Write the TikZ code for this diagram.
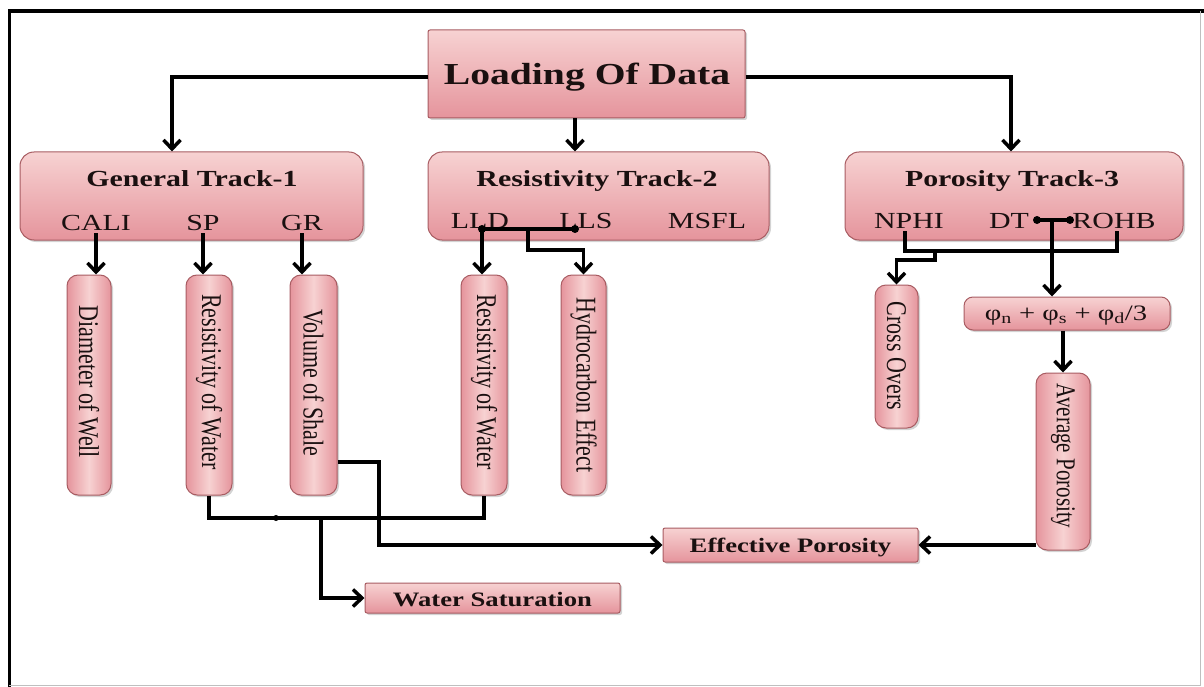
\documentclass[tikz,border=0pt]{standalone}
\usepackage{fontspec}
\setmainfont{Liberation Serif}
\usetikzlibrary{arrows.meta,shadows,calc}

\definecolor{pinkTop}{RGB}{247,210,210}
\definecolor{pinkBot}{RGB}{229,148,156}
\definecolor{edgeRed}{RGB}{168,92,98}
\definecolor{inkDark}{RGB}{26,16,16}

% the lettering is set slightly wide
\newcommand{\stretchtext}[1]{\scalebox{1.3}[1]{#1}}
\newcommand{\downtext}[1]{\scalebox{1.3}[1]{\rotatebox{-90}{#1}}}

\tikzset{
  box/.style={draw=edgeRed, line width=1pt, top color=pinkTop, bottom color=pinkBot,
    drop shadow={shadow xshift=2pt, shadow yshift=-2pt, opacity=0.35},
    inner sep=0pt},
  rbox/.style={box, rounded corners=14pt},
  vbox/.style={box, rounded corners=11pt, left color=pinkBot, right color=pinkBot, middle color=pinkTop},
  sbox/.style={box, rounded corners=2pt},
  txt/.style={inner sep=0pt, text=inkDark},
  bigtitle/.style={txt, anchor=base, font=\fontsize{30.5}{33}\selectfont\bfseries},
  ttl/.style={txt, anchor=base, font=\fontsize{23}{25}\selectfont\bfseries},
  lab/.style={txt, anchor=base, font=\fontsize{23}{25}\selectfont},
  vtxt/.style={txt, font=\fontsize{22}{24}\selectfont},
  btxt/.style={txt, anchor=base, font=\fontsize{20.5}{23}\selectfont\bfseries},
  wire/.style={line width=3.5pt, black},
  arrow/.style={wire, -{Straight Barb[length=9pt,width=17pt]}},
  junction/.style={circle, fill=black, inner sep=0pt, minimum size=8pt}
}

\begin{document}
\begin{tikzpicture}[x=1pt, y=-1pt]
\useasboundingbox (0,0) rectangle (1204,687);

% outer frame
\draw[line width=3.2pt, black] (8,11) -- (1204,11);
\draw[line width=3.2pt, black] (9.5,11) -- (9.5,687);
\draw[line width=1pt, black!25] (1200,11) -- (1200,685) -- (9,685);

% root box
\node[sbox, minimum width=317pt, minimum height=88pt] (load) at (586.5,74) {};
\node[bigtitle] (loadT) at (587,85) {\stretchtext{Loading Of Data}};

% track boxes
\node[rbox, minimum width=343pt, minimum height=88pt] (gen) at (191.5,196) {};
\node[rbox, minimum width=341pt, minimum height=88pt] (res) at (598.5,196) {};
\node[rbox, minimum width=338pt, minimum height=88pt] (por) at (1014,196) {};

\node[ttl] (genT) at (192,187) {\stretchtext{General Track-1}};
\node[ttl] (resT) at (597,187) {\stretchtext{Resistivity Track-2}};
\node[ttl] (porT) at (1012,187) {\stretchtext{Porosity Track-3}};

\node[lab] (cali) at (96,230) {\stretchtext{CALI}};
\node[lab] (sp) at (203,230) {\stretchtext{SP}};
\node[lab] (gr) at (302,230) {\stretchtext{GR}};
\node[lab] (lld) at (480,228) {\stretchtext{LLD}};
\node[lab] (lls) at (586,228) {\stretchtext{LLS}};
\node[lab] (msfl) at (707,228) {\stretchtext{MSFL}};
\node[lab] (nphi) at (909,228) {\stretchtext{NPHI}};
\node[lab] (dt) at (1009,228) {\stretchtext{DT}};
\node[lab] (rohb) at (1114,228) {\stretchtext{ROHB}};

% vertical result boxes
\node[vbox, minimum width=44pt, minimum height=220pt] (dia) at (89,385) {};
\node[vbox, minimum width=46pt, minimum height=220pt] (rw1) at (209,385) {};
\node[vbox, minimum width=47pt, minimum height=220pt] (vsh) at (313.5,385) {};
\node[vbox, minimum width=46pt, minimum height=220pt] (rw2) at (484,385) {};
\node[vbox, minimum width=45pt, minimum height=220pt] (hyd) at (583.5,385) {};
\node[vbox, minimum width=43pt, minimum height=143pt] (cross) at (896.5,356.5) {};
\node[vbox, minimum width=54pt, minimum height=177pt] (avg) at (1063,461.5) {};

\node[vtxt] (diaT) at (89,382) {\downtext{Diameter of Well}};
\node[vtxt] (rw1T) at (209,382) {\downtext{Resistivity of Water}};
\node[vtxt] (vshT) at (313.5,383) {\downtext{Volume of Shale}};
\node[vtxt] (rw2T) at (484,382) {\downtext{Resistivity of Water}};
\node[vtxt] (hydT) at (583.5,385) {\downtext{Hydrocarbon Effect}};
\node[vtxt] (crossT) at (896.5,356) {\downtext{Cross Overs}};
\node[vtxt, font=\fontsize{21}{23}\selectfont] (avgT) at (1063,456) {\downtext{Average Porosity}};

% formula box
\node[rbox, rounded corners=9pt, minimum width=206pt, minimum height=33pt] (phi) at (1067,313.5) {};
\node[txt, anchor=base, font=\fontsize{22}{24}\selectfont] (phiT) at (1066,320) {\stretchtext{φ\textsubscript{n} + φ\textsubscript{s} + φ\textsubscript{d}/3}};

% output boxes
\node[sbox, minimum width=255pt, minimum height=34pt] (eff) at (790.5,545) {};
\node[btxt] (effT) at (790.5,552) {\stretchtext{Effective Porosity}};
\node[sbox, minimum width=255pt, minimum height=30pt] (ws) at (492.5,598) {};
\node[btxt] (wsT) at (492.5,606) {\stretchtext{Water Saturation}};

% root to tracks
\draw[arrow] ([yshift=-3pt]load.west) -| ([xshift=-19.5pt]gen.north);
\draw[arrow] ([xshift=-11.5pt]load.south) -- ([xshift=-23.5pt]res.north);
\draw[arrow] ([yshift=-3pt]load.east) -| ([xshift=-3pt]por.north);

% general track
\draw[arrow] ([yshift=-3pt]cali.south) -- (cali.south |- dia.north);
\draw[arrow] ([yshift=-3pt]sp.south) -- (sp.south |- rw1.north);
\draw[arrow] ([yshift=-3pt]gr.south) -- (gr.south |- vsh.north);

% resistivity track
\coordinate (lldd) at (482,229);
\coordinate (llsd) at (575,229);
\coordinate (llm) at (528,229);
\draw[wire] (lldd) -- (llsd);
\node[junction] (lldj) at (lldd) {};
\node[junction] (llsj) at (llsd) {};
\draw[arrow] (lldd) -- (lldd |- rw2.north);
\draw[arrow] (llm) -- (528,250) -| (hyd.north);

% porosity track
\coordinate (dtd) at (1037,220);
\coordinate (rhd) at (1070,220);
\coordinate (dtm) at (1052,220);
\draw[wire] (dtd) -- (rhd);
\node[junction] (dtj) at (dtd) {};
\node[junction] (rhj) at (rhd) {};
\draw[arrow] (dtm) -- (dtm |- phi.north);
\coordinate (npt) at (905,231);
\coordinate (npb) at (905,251);
\coordinate (rbt) at (1117,231);
\coordinate (rbb) at (1117,251);
\draw[wire] (npt) -- (npb) -- (rbb) -- (rbt);
\coordinate (cs) at (935,251);
\draw[arrow] (cs) -- (935,260) -| (cross.north);
\draw[arrow] (phi.south -| avg.north) -- (avg.north);
\draw[arrow] (avg.west |- eff.east) -- (eff.east);

% lower network
\coordinate (bus) at (209,518);
\draw[wire] (rw1.south) -- (bus) -| (rw2.south);
\node[junction, minimum size=6pt] (busdot) at (276,518) {};
\coordinate (wsj) at (321,518);
\draw[arrow] (wsj) |- (ws.west);
\coordinate (vshout) at (vsh.east |- 0,462);
\draw[arrow] (vshout) -- (379,462) |- (eff.west);
\end{tikzpicture}
\end{document}
